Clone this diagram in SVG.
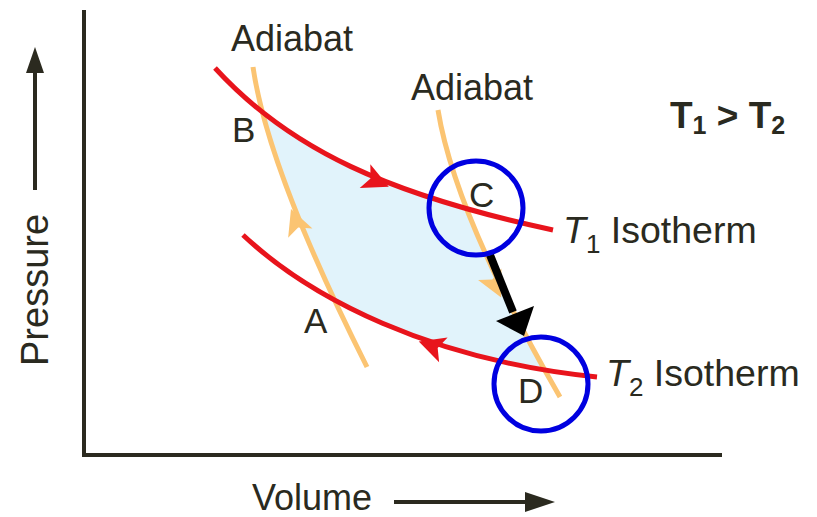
<svg xmlns="http://www.w3.org/2000/svg" width="817" height="517" viewBox="0 0 817 517">
<style>
  text { font-family: "Liberation Sans", Arial, sans-serif; fill: #2a2a20; }
  .lbl { font-size: 36px; }
  .iso-lbl { font-size: 37.5px; }
  .pt { font-size: 35px; }
  .axis { stroke: #2b2a1f; stroke-width: 4; fill: none; }
  .iso { stroke: #e8141c; stroke-width: 5; fill: none; }
  .adi { stroke: #fbc472; stroke-width: 5; fill: none; }
  .circ { stroke: #0000e0; stroke-width: 5; fill: none; }
</style>
<defs>
  <path id="barb" d="M14,0 L-12,-13 L-6,0 L-12,13 Z"/>
  <clipPath id="cUpper"><path d="M215,68 C290,150 390,195 553,230 L553,517 L215,517 Z"/></clipPath>
  <clipPath id="cLower"><path d="M243,235 C310,298 430,360 597,377 L597,0 L243,0 Z"/></clipPath>
  <clipPath id="cLeft"><path d="M253,67 Q268,170 367,367 L700,367 L700,0 L253,0 Z"/></clipPath>
  <clipPath id="cRight"><path d="M438,110 Q455,215 560,397 L0,397 L0,0 L438,0 Z"/></clipPath>
</defs>

<g id="axes">
  <line class="axis" x1="84" y1="10" x2="84" y2="457"/>
  <line class="axis" x1="82" y1="455" x2="722" y2="455"/>
  <line class="axis" x1="35" y1="190" x2="35" y2="70"/>
  <polygon points="35,47 26,73 44,73" fill="#2b2a1f"/>
  <line class="axis" x1="394" y1="502" x2="528" y2="502"/>
  <polygon points="555,502 525,492 525,512" fill="#2b2a1f"/>
  <text transform="translate(48,366) rotate(-90)" font-size="38">Pressure</text>
  <text class="lbl" x="252" y="510">Volume</text>
</g>

<g id="cycle-area">
  <g clip-path="url(#cUpper)">
    <g clip-path="url(#cLower)">
      <g clip-path="url(#cLeft)">
        <rect x="0" y="0" width="817" height="517" fill="#e1f3fb" clip-path="url(#cRight)"/>
      </g>
    </g>
  </g>
</g>

<g id="connectors">
  <path id="adiabat-left" class="adi" d="M253,67 Q268,170 367,367"/>
  <path id="adiabat-right" class="adi" d="M438,110 Q455,215 560,397"/>
  <use href="#barb" fill="#fbc472" transform="translate(296,222) rotate(-111)"/>
  <use href="#barb" fill="#fbc472" transform="translate(495,285) rotate(64)"/>
  <path id="isotherm-T1" class="iso" d="M215,68 C290,150 390,195 553,230"/>
  <path id="isotherm-T2" class="iso" d="M243,235 C310,298 430,360 597,377"/>
  <use href="#barb" fill="#e8141c" transform="translate(376,181) rotate(24)"/>
  <use href="#barb" fill="#e8141c" transform="translate(432,346) rotate(199)"/>
  <line x1="490" y1="255" x2="513" y2="312" stroke="#000" stroke-width="8"/>
  <polygon points="524,336 496,321 534,306" fill="#000"/>
</g>

<g id="node-C">
  <circle class="circ" cx="476" cy="208" r="47"/>
  <text class="pt" x="469" y="207">C</text>
</g>
<g id="node-D">
  <circle class="circ" cx="541" cy="384" r="47"/>
  <text class="pt" x="518" y="403">D</text>
</g>
<g id="node-A">
  <text class="pt" x="304" y="333">A</text>
</g>
<g id="node-B">
  <text class="pt" x="232" y="142">B</text>
</g>

<g id="labels">
  <text class="lbl" x="231" y="51">Adiabat</text>
  <text class="lbl" x="411" y="100">Adiabat</text>
  <text class="iso-lbl" x="563" y="243"><tspan font-style="italic">T</tspan><tspan font-size="26" dy="10">1</tspan><tspan dy="-10"> Isotherm</tspan></text>
  <text class="iso-lbl" x="606" y="386"><tspan font-style="italic">T</tspan><tspan font-size="26" dy="10">2</tspan><tspan dy="-10"> Isotherm</tspan></text>
  <text x="670" y="128" font-size="37" font-weight="bold" fill="#000">T<tspan font-size="25" dy="6">1</tspan><tspan dy="-6"> &gt; T</tspan><tspan font-size="25" dy="6">2</tspan></text>
</g>
</svg>
